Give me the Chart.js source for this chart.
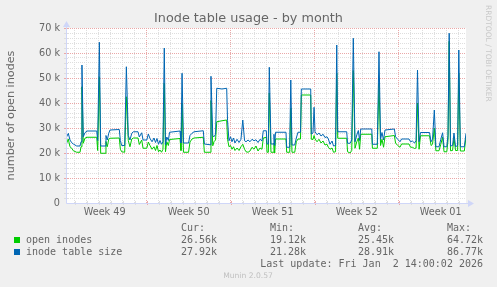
<!DOCTYPE html>
<html><head><meta charset="utf-8">
<script src="https://cdn.jsdelivr.net/npm/chart.js@4.4.0/dist/chart.umd.min.js"></script>
<style>html,body{margin:0;padding:0;background:#f0f0f0;overflow:hidden}canvas{display:block}</style>
</head><body>
<canvas id="c" width="497" height="287"></canvas>
<script>
// time in days from the left edge of the graph (graph spans 33.33 days)
const times = [0,0.19,0.33,0.48,0.61,0.89,1.17,1.25,1.33,1.44,
1.58,1.75,2.56,2.64,2.78,2.89,3.25,3.33,3.44,3.56,
3.67,4.44,4.53,4.64,4.89,5.03,5.19,5.33,5.48,5.61,
6.00,6.11,6.31,6.42,6.73,6.86,7.00,7.17,7.33,7.46,
7.58,7.71,7.83,7.96,8.08,8.19,8.29,8.40,8.53,8.63,
9.50,9.58,9.67,9.79,10.21,10.33,10.50,10.67,11.44,11.53,
12.00,12.08,12.23,12.33,12.46,12.56,13.00,13.39,13.46,13.58,
13.71,13.83,13.96,14.08,14.25,14.42,14.58,14.73,14.88,15.00,
15.17,15.33,15.50,15.67,15.83,16.00,16.17,16.33,16.44,16.69,
16.75,16.86,16.94,17.08,17.25,17.33,17.39,17.46,18.33,18.39,
18.64,18.73,18.83,19.06,19.19,19.33,19.54,19.61,20.39,20.44,
20.58,20.67,20.75,20.92,21.08,21.25,21.42,21.58,21.75,21.86,
22.00,22.17,22.29,22.46,22.56,22.64,23.39,23.46,23.67,23.81,
23.94,24.08,24.23,24.36,24.46,24.56,25.48,25.53,25.94,26.08,
26.21,26.33,26.46,26.58,27.36,27.46,27.64,27.83,27.96,28.58,
28.71,28.86,29.04,29.17,29.29,29.42,29.54,30.29,30.42,30.54,
30.69,30.82,31.08,31.23,31.38,31.50,31.73,31.83,31.93,32.04,
32.21,32.33,32.46,32.63,32.73,32.86,33.19,33.33];

// values in thousands
const openInodes = [23.2,25.6,22.5,21.9,20.9,20.3,20.3,22.5,46.5,23.9,
25.9,26.3,26.3,21.0,50.5,19.9,19.9,24.6,22.5,25.5,
25.9,26.0,21.5,20.5,20.3,42.5,25.0,22.5,25.6,26.0,
26.0,23.4,25.2,21.9,21.9,24.4,23.0,21.5,22.5,21.0,
23.0,20.5,21.2,20.3,21.5,48.0,20.5,24.5,23.0,25.4,
25.8,21.0,40.0,20.3,20.3,24.4,25.6,26.0,26.3,20.3,
20.3,41.0,22.9,24.5,25.2,32.5,32.9,33.2,25.5,22.5,
23.0,21.5,22.5,21.0,22.0,21.0,22.5,23.5,21.5,20.5,
20.3,20.8,22.3,21.5,22.8,20.8,22.0,21.5,26.0,26.3,
20.3,20.3,44.0,20.3,20.3,24.0,20.0,25.6,25.6,20.3,
20.3,38.0,20.3,20.3,24.5,25.6,25.6,43.2,43.2,25.5,
25.4,27.0,25.6,24.5,25.5,24.0,24.8,23.2,23.5,22.3,
21.5,22.0,20.3,20.5,52.0,25.9,25.9,20.5,20.0,21.0,
53.0,21.9,24.5,26.0,21.5,27.5,27.5,21.9,21.9,48.0,
23.0,25.5,22.3,26.5,27.0,24.0,23.0,22.3,23.6,23.6,
22.3,22.3,21.8,22.0,40.0,21.5,26.9,26.9,23.0,23.5,
30.0,20.9,20.9,23.5,26.3,20.5,20.5,25.0,64.7,20.9,
21.0,26.0,21.0,21.0,52.0,20.8,20.8,26.5];

const tableSize = [25.9,27.9,25.2,24.1,23.6,22.8,22.8,24.5,55.2,26.5,
28.1,28.8,28.8,25.0,64.3,22.8,22.8,27.0,25.2,27.9,
29.2,29.4,25.0,23.0,23.0,54.5,27.0,25.2,27.9,28.5,
28.5,26.4,28.1,25.2,25.2,27.6,25.8,24.5,26.0,24.2,
25.8,23.5,25.0,23.5,24.5,62.0,23.2,26.4,25.0,28.3,
28.8,24.0,51.9,24.0,24.0,27.0,27.9,28.5,28.9,23.6,
23.3,50.7,26.9,26.5,27.5,45.9,45.6,45.9,33.0,24.9,
26.5,24.5,26.0,24.0,25.5,24.2,25.5,33.2,24.9,24.5,
25.2,24.5,25.5,24.9,25.3,24.2,25.5,24.8,28.9,28.9,
23.6,23.6,54.3,23.6,23.6,27.5,23.0,28.3,28.3,22.3,
22.3,49.2,23.2,23.2,26.0,28.3,28.3,45.6,45.6,27.6,
28.0,38.3,28.5,27.3,28.0,26.8,27.5,26.2,26.5,25.6,
23.5,24.8,22.8,23.0,63.2,28.5,28.5,23.9,23.9,25.2,
65.9,24.5,27.2,29.0,25.0,29.6,29.6,23.5,23.5,60.5,
25.5,28.2,25.2,29.2,29.6,26.5,25.5,24.5,25.6,25.6,
24.5,24.8,24.0,25.0,53.2,24.5,28.2,28.2,24.5,25.5,
37.2,22.5,22.5,25.5,28.1,22.5,22.5,27.0,67.9,22.8,
23.0,28.0,22.5,23.0,61.2,22.5,22.5,27.9];

const weekLabels = ["Week 49","Week 50","Week 51","Week 52","Week 01"];
const seriesNames = ["open inodes","inode table size"];
const seriesColors = ["#00cc00","#0066b3"];
const statHeads = ["Cur:","Min:","Avg:","Max:"];
const statOpen = ["26.56k","19.12k","25.45k","64.72k"];
const statSize = ["27.92k","21.28k","28.91k","86.77k"];
const titleText = "Inode table usage - by month";
const yTitle = "number of open inodes";
const lastUpdate = "Last update: Fri Jan  2 14:00:02 2026";
const footer = "Munin 2.0.57";
const watermark = "RRDTOOL / TOBI OETIKER";

const xMax = 33.33;        // days shown
const firstWeekStart = 6.72; // first week boundary (days from left edge)

const GRID = '#dedede', MGRID = '#eaa8a8', AXIS = '#cfd6f8', FONT = '#666666';

const xKinds = [];
const deco = {
  id: 'deco',
  beforeDraw(chart) {
    const {ctx, chartArea: a} = chart;
    ctx.save();
    ctx.fillStyle = '#f0f0f0'; ctx.fillRect(0, 0, chart.width, chart.height);
    ctx.fillStyle = '#ffffff'; ctx.fillRect(a.left, a.top, a.right - a.left, a.bottom - a.top);
    ctx.restore();
  },
  afterDraw(chart) {
    const {ctx, chartArea: a, scales} = chart;
    ctx.save();
    xKinds.forEach(k => {
      if (k.kind === 'label') return;
      const px = Math.round(scales.x.getPixelForValue(k.value)) + 0.5;
      ctx.strokeStyle = k.kind === 'major' ? MGRID : GRID;
      ctx.lineWidth = 1;
      ctx.beginPath(); ctx.moveTo(px, a.bottom - 2); ctx.lineTo(px, a.bottom + 2); ctx.stroke();
    });
    for (let v = 2; v <= 70; v += 2) {
      const py = Math.round(scales.y.getPixelForValue(v)) + 0.5;
      ctx.strokeStyle = v % 10 === 0 ? MGRID : GRID;
      ctx.beginPath(); ctx.moveTo(a.left - 2, py); ctx.lineTo(a.left + 2, py); ctx.stroke();
    }
    ctx.strokeStyle = AXIS; ctx.fillStyle = AXIS; ctx.lineWidth = 1;
    const x0 = Math.round(a.left) + 0.5, y0 = Math.round(a.bottom) + 0.5;
    ctx.beginPath(); ctx.moveTo(x0, y0); ctx.lineTo(a.right + 4, y0); ctx.stroke();
    ctx.beginPath(); ctx.moveTo(x0, y0); ctx.lineTo(x0, a.top - 3); ctx.stroke();
    ctx.beginPath(); ctx.moveTo(a.right + 2, y0 - 3.5); ctx.lineTo(a.right + 8, y0); ctx.lineTo(a.right + 2, y0 + 3.5); ctx.closePath(); ctx.fill();
    ctx.beginPath(); ctx.moveTo(x0 - 3.5, a.top - 1); ctx.lineTo(x0, a.top - 7); ctx.lineTo(x0 + 3.5, a.top - 1); ctx.closePath(); ctx.fill();

    ctx.fillStyle = FONT;
    ctx.textBaseline = 'middle';
    ctx.textAlign = 'center';
    ctx.font = '12.8px "DejaVu Sans"';
    ctx.fillText(titleText, 248.5, 19);

    ctx.save();
    ctx.translate(488, 5);
    ctx.rotate(Math.PI / 2);
    ctx.textAlign = 'left';
    ctx.fillStyle = '#c8c8c8';
    ctx.font = '7.5px "DejaVu Sans"';
    ctx.fillText(watermark, 0, 0);
    ctx.restore();

    ctx.font = '10px "DejaVu Sans Mono"';
    ctx.textAlign = 'left';
    const cols = [181, 270, 358, 447];
    statHeads.forEach((h, i) => ctx.fillText(h, cols[i], 228));
    const rows = [statOpen, statSize];
    seriesNames.forEach((n, r) => {
      const y = 240 + r * 12;
      ctx.fillStyle = seriesColors[r];
      ctx.fillRect(14, y - 3, 6, 6);
      ctx.fillStyle = FONT;
      ctx.fillText(n, 26, y);
      rows[r].forEach((s, i) => ctx.fillText(s, cols[i], y));
    });
    ctx.textAlign = 'right';
    ctx.fillText(lastUpdate, 483, 264);

    ctx.textAlign = 'center';
    ctx.fillStyle = '#c0c0c0';
    ctx.font = '7.6px "DejaVu Sans"';
    ctx.fillText(footer, 248, 276);
    ctx.restore();
  }
};

Chart.defaults.font.family = '"DejaVu Sans"';
new Chart(document.getElementById('c'), {
  type: 'line',
  data: {
    datasets: [
      { label: seriesNames[0], data: times.map((t, i) => ({x: t, y: openInodes[i]})),
        borderColor: seriesColors[0], borderWidth: 1, pointRadius: 0, tension: 0, fill: false, order: 2 },
      { label: seriesNames[1], data: times.map((t, i) => ({x: t, y: tableSize[i]})),
        borderColor: seriesColors[1], borderWidth: 1, pointRadius: 0, tension: 0, fill: false, order: 1 }
    ]
  },
  options: {
    responsive: false, animation: false, devicePixelRatio: 1,
    layout: { padding: { left: 0, top: 28, right: 31, bottom: 0 } },
    plugins: { legend: { display: false }, tooltip: { enabled: false }, title: { display: false } },
    scales: {
      x: {
        type: 'linear', min: 0, max: xMax,
        afterBuildTicks(scale) {
          const list = [];
          for (let n = -7; n <= 30; n++) {
            const v = firstWeekStart + n;
            if (v > 0.01 && v < xMax - 0.01) list.push({value: v, kind: (n % 7 === 0) ? 'major' : 'minor'});
          }
          weekLabels.forEach((w, i) => list.push({value: firstWeekStart - 3.5 + 7 * i, kind: 'label', text: w}));
          list.sort((p, q) => p.value - q.value);
          xKinds.length = 0; list.forEach(k => xKinds.push(k));
          scale.ticks = list.map(k => ({value: k.value}));
        },
        afterFit(scale) { scale.height = 84; },
        grid: {
          drawTicks: false,
          color: c => { const k = xKinds[c.index]; if (!k || k.kind === 'label') return 'rgba(0,0,0,0)'; return k.kind === 'major' ? MGRID : GRID; },
          lineWidth: 1, borderDash: [1, 1]
        },
        border: { display: false, dash: [1, 1] },
        ticks: {
          autoSkip: false, maxRotation: 0, minRotation: 0, padding: 4, color: FONT,
          font: { size: 9.7 },
          callback: (v, i) => { const k = xKinds[i]; return k && k.kind === 'label' ? k.text : ''; }
        }
      },
      y: {
        type: 'linear', min: 0, max: 70,
        afterBuildTicks(scale) {
          const list = [];
          for (let v = 0; v <= 70; v += 2) list.push({value: v});
          scale.ticks = list;
        },
        afterFit(scale) { scale.width = 66; },
        grid: {
          drawTicks: false,
          color: c => { const v = c.tick ? c.tick.value : 0; if (v === 0) return 'rgba(0,0,0,0)'; return v % 10 === 0 ? MGRID : GRID; },
          lineWidth: 1, borderDash: [1, 1]
        },
        border: { display: false, dash: [1, 1] },
        ticks: {
          autoSkip: false, padding: 6, color: FONT, font: { size: 9.7 },
          callback: v => v % 10 === 0 ? (v === 0 ? '0' : v + ' k') : ''
        },
        title: { display: true, text: yTitle, color: FONT, font: { size: 11.2 }, padding: { top: 4, bottom: 0 } }
      }
    }
  },
  plugins: [deco]
});
</script>
</body></html>
